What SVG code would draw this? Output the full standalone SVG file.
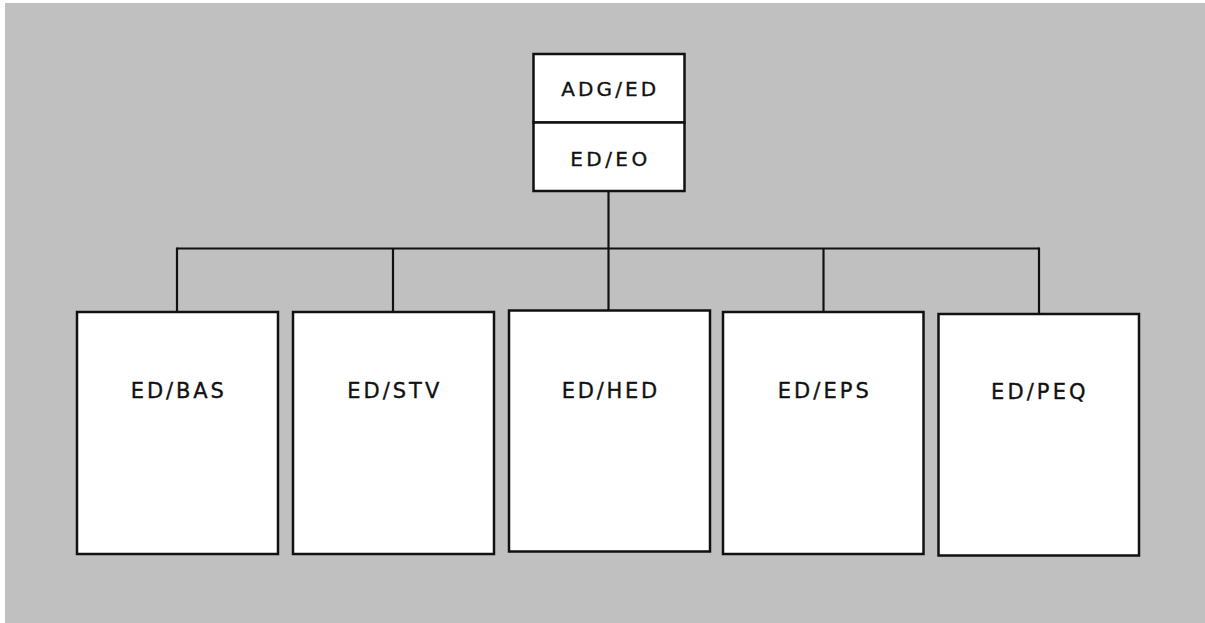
<svg xmlns="http://www.w3.org/2000/svg" width="1205" height="623" viewBox="0 0 1205 623">
  <style>
    .box { fill: #ffffff; stroke: #111111; stroke-width: 2.5; }
    .wire { fill: none; stroke: #111111; stroke-width: 2.2; }
    .lbl { font-family: "DejaVu Sans", "Liberation Sans", sans-serif; font-size: 21px; fill: #111111; stroke: #111111; stroke-width: 0.35; text-anchor: middle; }
    .top { font-size: 20px; }
  </style>
  <!-- page background -->
  <rect x="5" y="3" width="1200" height="620" fill="#c0c0c0"/>

  <!-- connectors -->
  <g id="connectors">
    <line class="wire" x1="608.5" y1="191" x2="608.5" y2="310"/>
    <line class="wire" x1="177" y1="248.5" x2="1039" y2="248.5"/>
    <line class="wire" x1="177" y1="247.5" x2="177" y2="312"/>
    <line class="wire" x1="393" y1="248.5" x2="393" y2="312"/>
    <line class="wire" x1="823.5" y1="248.5" x2="823.5" y2="312"/>
    <line class="wire" x1="1039" y1="247.5" x2="1039" y2="314"/>
  </g>

  <!-- top: two stacked cells -->
  <g id="node-adg-ed">
    <rect class="box" x="533.5" y="54" width="151" height="68.5"/>
    <text class="lbl top" x="608.7" y="96" textLength="95" lengthAdjust="spacing">ADG/ED</text>
  </g>
  <g id="node-ed-eo">
    <rect class="box" x="533.5" y="122.5" width="151" height="68.5"/>
    <text class="lbl top" x="608.7" y="165.5" textLength="77" lengthAdjust="spacing">ED/EO</text>
  </g>

  <!-- divisions -->
  <g id="node-ed-bas">
    <rect class="box" x="77" y="312" width="201" height="242"/>
    <text class="lbl" x="177.3" y="398.3" textLength="93" lengthAdjust="spacing">ED/BAS</text>
  </g>
  <g id="node-ed-stv">
    <rect class="box" x="293" y="312" width="201" height="242"/>
    <text class="lbl" x="393.3" y="398.3" textLength="92" lengthAdjust="spacing">ED/STV</text>
  </g>
  <g id="node-ed-hed">
    <rect class="box" x="509" y="310.5" width="201" height="241"/>
    <text class="lbl" x="609.5" y="397.7" textLength="95.5" lengthAdjust="spacing">ED/HED</text>
  </g>
  <g id="node-ed-eps">
    <rect class="box" x="723" y="312" width="200.5" height="242"/>
    <text class="lbl" x="823.3" y="398.3" textLength="91" lengthAdjust="spacing">ED/EPS</text>
  </g>
  <g id="node-ed-peq">
    <rect class="box" x="938.5" y="314" width="200.5" height="241.5"/>
    <text class="lbl" x="1038.3" y="399" textLength="94.5" lengthAdjust="spacing">ED/PEQ</text>
  </g>
</svg>
